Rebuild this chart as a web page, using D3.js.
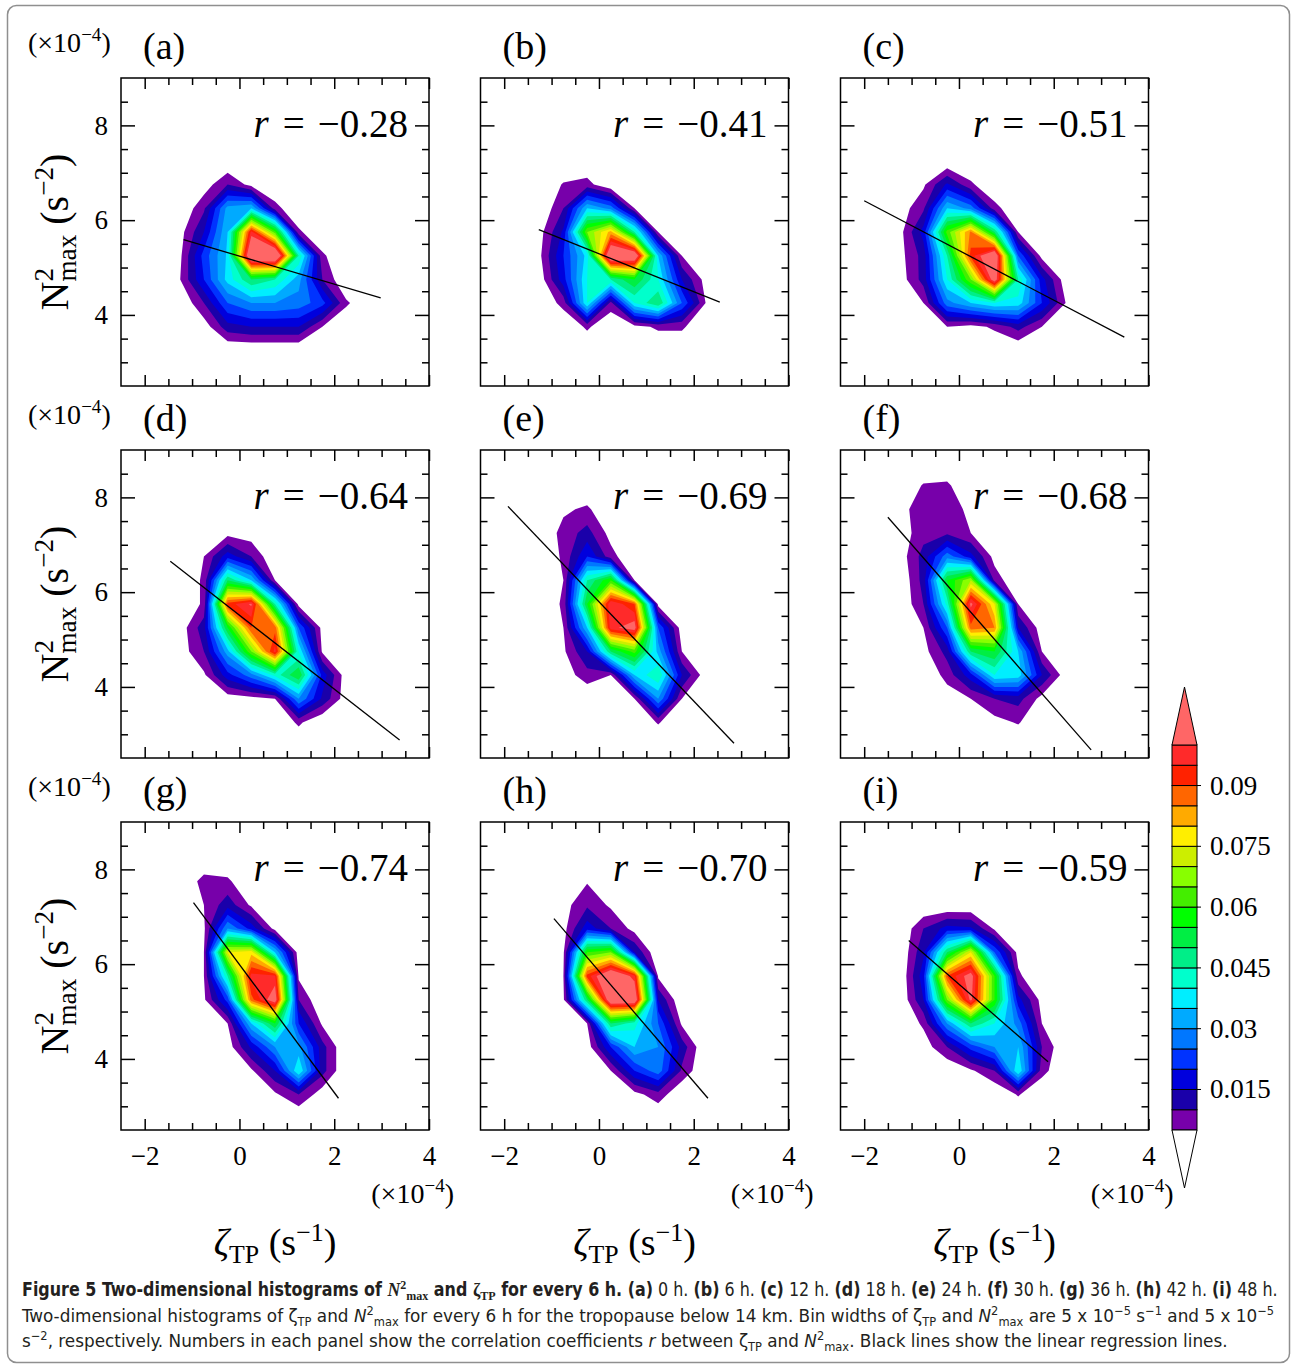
<!DOCTYPE html>
<html>
<head>
<meta charset="utf-8">
<script src="https://cdn.jsdelivr.net/npm/d3@7"></script>
<style>
  body { margin: 0; background: #fff; }
</style>
</head>
<body>
<div id="wrap"></div>
<script>
// histogram grids, units of 1e-3, rows from N2 = 8.75 down to 2.75,
// columns from zeta = -1.75 to 3.25 (bin centres, 0.5 apart)
var histA = [
  [0,0,0,0,0,0,0,0,0,0,0],
  [0,0,0,0,0,0,0,0,0,0,0],
  [0,0,0,0,0,0,0,0,0,0,0],
  [0,0,0,0,0,0,0,0,0,0,0],
  [0,0,2,10,3,0,0,0,0,0,0],
  [0,0,9,32,35,7,0,0,0,0,0],
  [0,3,15,35,97,62,6,0,0,0,0],
  [0,4,22,36,115,118,45,6,0,0,0],
  [0,5,20,37,50,45,32,10,0,0,0],
  [0,0,10,25,30,30,28,22,6,0,0],
  [0,0,2,13,15,15,15,5,0,0,0],
  [0,0,0,0,0,0,0,0,0,0,0],
  [0,0,0,0,0,0,0,0,0,0,0]
];
var histB = [
  [0,0,0,0,0,0,0,0,0,0,0],
  [0,0,0,0,0,0,0,0,0,0,0],
  [0,0,0,0,0,0,0,0,0,0,0],
  [0,0,0,0,0,0,0,0,0,0,0],
  [0,0,5.5,7,0,0,0,0,0,0,0],
  [0,0,10,35,28,5,0,0,0,0,0],
  [0,3,16,65,82,45,5,0,0,0,0],
  [0,4,20,37,115,112,35,5,0,0,0],
  [0,2,18,40,45,55,40,15,3,0,0],
  [0,0,7,40,8,40,50,25,5,0,0],
  [0,0,0,6,0,3,6,6,0,0,0],
  [0,0,0,0,0,0,0,0,0,0,0],
  [0,0,0,0,0,0,0,0,0,0,0]
];
var histC = [
  [0,0,0,0,0,0,0,0,0,0,0],
  [0,0,0,0,0,0,0,0,0,0,0],
  [0,0,0,0,0,0,0,0,0,0,0],
  [0,0,0,0,0,0,0,0,0,0,0],
  [0,0,4,16,6,0,0,0,0,0,0],
  [0,2,9,35,28,7,0,0,0,0,0],
  [0,3,17,62,86,50,5,0,0,0,0],
  [0,3,12,45,92,112,25,3,0,0,0],
  [0,2,12,40,65,106,45,17,2,0,0],
  [0,0,5,28,35,40,38,20,5,0,0],
  [0,0,0,5,3,6,12,5,0,0,0],
  [0,0,0,0,0,0,0,0,0,0,0],
  [0,0,0,0,0,0,0,0,0,0,0]
];
var histD = [
  [0,0,0,0,0,0,0,0,0,0,0],
  [0,0,0,0,0,0,0,0,0,0,0],
  [0,0,0,0,0,0,0,0,0,0,0],
  [0,0,0,3,2,0,0,0,0,0,0],
  [0,0,5,18,10,0,0,0,0,0,0],
  [0,0,6,50,35,5,0,0,0,0,0],
  [0,0,6,92,101,45,3,0,0,0,0],
  [0,2,13,55,90,88,25,3,0,0,0],
  [0,2,10,33,65,97,40,4,0,0,0],
  [0,0,4,18,28,42,55,18,2,0,0],
  [0,0,0,2,3,5,30,14,2,0,0],
  [0,0,0,0,0,0,6,0,0,0,0],
  [0,0,0,0,0,0,0,0,0,0,0]
];
var histE = [
  [0,0,0,0,0,0,0,0,0,0,0],
  [0,0,0,0,0,0,0,0,0,0,0],
  [0,0,4,6,0,0,0,0,0,0,0],
  [0,0,7,12,3,0,0,0,0,0,0],
  [0,0,6,20,7,0,0,0,0,0,0],
  [0,0,5,45,60,5,0,0,0,0,0],
  [0,0,6,55,100,90,3,0,0,0,0],
  [0,0,5,35,98,104,25,2,0,0,0],
  [0,0,4,15,50,62,33,5,0,0,0],
  [0,0,2,8,5,35,45,15,2,0,0],
  [0,0,0,0,0,5,30,5,0,0,0],
  [0,0,0,0,0,0,5.5,0,0,0,0],
  [0,0,0,0,0,0,0,0,0,0,0]
];
var histF = [
  [0,0,0,0,0,0,0,0,0,0,0],
  [0,0,5.5,6,0,0,0,0,0,0,0],
  [0,3,8,9,3,0,0,0,0,0,0],
  [0,2,8,9,5,0,0,0,0,0,0],
  [0,2,12,28,17,3,0,0,0,0,0],
  [0,0,12,55,70,8,0,0,0,0,0],
  [0,0,10,42,102,75,5,0,0,0,0],
  [0,0,5,25,88,85,15,2,0,0,0],
  [0,0,3,12,50,55,35,5,0,0,0],
  [0,0,0,7,18,40,38,15,2,0,0],
  [0,0,0,2,5,10,12,3,0,0,0],
  [0,0,0,0,0,3,5.5,0,0,0,0],
  [0,0,0,0,0,0,0,0,0,0,0]
];
var histG = [
  [0,0,0,0,0,0,0,0,0,0,0],
  [0,0,0,0,0,0,0,0,0,0,0],
  [0,0,7,6,0,0,0,0,0,0,0],
  [0,0,5,13,4,0,0,0,0,0,0],
  [0,0,4,30,18,3,0,0,0,0,0],
  [0,0,5,75,78,35,2,0,0,0,0],
  [0,0,5,45,97,96,4,0,0,0,0],
  [0,0,4,22,88,106,10,0,0,0,0],
  [0,0,0,5,35,55,20,4,0,0,0],
  [0,0,0,2,16,30,32,12,0,0,0],
  [0,0,0,0,4,15,40,12,0,0,0],
  [0,0,0,0,0,4,10,2,0,0,0],
  [0,0,0,0,0,0,0,0,0,0,0]
];
var histH = [
  [0,0,0,0,0,0,0,0,0,0,0],
  [0,0,0,0,0,0,0,0,0,0,0],
  [0,0,0,4.5,0,0,0,0,0,0,0],
  [0,0,3,9,4,0,0,0,0,0,0],
  [0,0,3,18,10,3,0,0,0,0,0],
  [0,0,4,60,65,15,0,0,0,0,0],
  [0,0,5,92,112,97,4,0,0,0,0],
  [0,0,4,50,110,110,15,0,0,0,0],
  [0,0,0,5,50,42,25,4,0,0,0],
  [0,0,0,2,20,35,30,13,0,0,0],
  [0,0,0,0,5,20,28,9,0,0,0],
  [0,0,0,0,0,3,8,0,0,0,0],
  [0,0,0,0,0,0,0,0,0,0,0]
];
var histI = [
  [0,0,0,0,0,0,0,0,0,0,0],
  [0,0,0,0,0,0,0,0,0,0,0],
  [0,0,0,0,0,0,0,0,0,0,0],
  [0,0,0,0,0,0,0,0,0,0,0],
  [0,0,10,17,16,4,0,0,0,0,0],
  [0,0,14,50,75,25,3,0,0,0,0],
  [0,0,18,90,104,60,6,0,0,0,0],
  [0,0,15,65,102,60,17,3,0,0,0],
  [0,0,6,30,50,40,28,5,0,0,0],
  [0,0,2,10,22,30,35,10,0,0,0],
  [0,0,0,0,4,10,40,7,0,0,0],
  [0,0,0,0,0,0,5.5,0,0,0,0],
  [0,0,0,0,0,0,0,0,0,0,0]
];
var hists = [histA, histB, histC, histD, histE, histF, histG, histH, histI];

var panelNames = ["(a)", "(b)", "(c)", "(d)", "(e)", "(f)", "(g)", "(h)", "(i)"];
var rValues = ["−0.28", "−0.41", "−0.51", "−0.64", "−0.69", "−0.68", "−0.74", "−0.70", "−0.59"];

// regression line end points (zeta, N2)
var regX1 = [-1.18, -1.27, -2.0, -1.46, -1.92, -1.50, -0.97, -0.95, -1.06];
var regY1 = [5.59, 5.80, 6.41, 6.65, 7.81, 7.58, 7.30, 6.96, 6.50];
var regX2 = [2.98, 2.55, 3.49, 3.38, 2.85, 2.79, 2.09, 2.30, 1.88];
var regY2 = [4.36, 4.27, 3.53, 2.88, 2.81, 2.67, 3.17, 3.17, 3.94];

var levels = [0.005, 0.01, 0.015, 0.02, 0.025, 0.03, 0.035, 0.04, 0.045, 0.05,
  0.055, 0.06, 0.065, 0.07, 0.075, 0.08, 0.085, 0.09, 0.095, 0.1];
var bandColors = ["#7700aa", "#1a00aa", "#0000dd", "#0033ff", "#0077ff", "#00aaff",
  "#00eeff", "#00ffcc", "#00ee88", "#00ee44", "#00ff00", "#44ee00", "#88ff00",
  "#ccee00", "#ffee00", "#ffaa00", "#ff6600", "#ff2200", "#ff2a2a", "#ff6666"];
var cbTicks = [0.015, 0.03, 0.045, 0.06, 0.075, 0.09];

var xMajor = [-2, 0, 2, 4];
var xMinor = [-1.5, -1, -0.5, 0.5, 1, 1.5, 2.5, 3, 3.5];
var yMajor = [4, 6, 8];
var yMinor = [3, 3.5, 4.5, 5, 5.5, 6.5, 7, 7.5, 8.5];

var captionLine1 = [
  {t: "Figure 5 Two-dimensional histograms of ", b: 1},
  {t: "N", b: 1, i: 1, serif: 1}, {t: "2", b: 1, sup: 1, serif: 1}, {t: "max", b: 1, sub: 1, serif: 1},
  {t: " and ", b: 1}, {t: "ζ", b: 1, serif: 1}, {t: "TP", b: 1, sub: 1, serif: 1},
  {t: " for every 6 h. ", b: 1},
  {t: "(a)", b: 1}, {t: " 0 h. "}, {t: "(b)", b: 1}, {t: " 6 h. "}, {t: "(c)", b: 1}, {t: " 12 h. "},
  {t: "(d)", b: 1}, {t: " 18 h. "}, {t: "(e)", b: 1}, {t: " 24 h. "}, {t: "(f)", b: 1}, {t: " 30 h. "},
  {t: "(g)", b: 1}, {t: " 36 h. "}, {t: "(h)", b: 1}, {t: " 42 h. "}, {t: "(i)", b: 1}, {t: " 48 h."}
];
var captionLine2 = [
  {t: "Two-dimensional histograms of ζ"}, {t: "TP", sub: 1}, {t: " and "},
  {t: "N", i: 1}, {t: "2", sup: 1}, {t: "max", sub: 1},
  {t: " for every 6 h for the tropopause below 14 km. Bin widths of ζ"}, {t: "TP", sub: 1},
  {t: " and "}, {t: "N", i: 1}, {t: "2", sup: 1}, {t: "max", sub: 1},
  {t: " are 5 x 10"}, {t: "−5", sup: 1}, {t: " s"}, {t: "−1", sup: 1}, {t: " and 5 x 10"}, {t: "−5", sup: 1}
];
var captionLine3 = [
  {t: "s"}, {t: "−2", sup: 1},
  {t: ", respectively. Numbers in each panel show the correlation coefficients "}, {t: "r", i: 1},
  {t: " between ζ"}, {t: "TP", sub: 1}, {t: " and "}, {t: "N", i: 1}, {t: "2", sup: 1}, {t: "max", sub: 1},
  {t: ". Black lines show the linear regression lines."}
];

var W = 1294, H = 1368;
var size = 308;
var colLeft = [121, 480.5, 840.5];
var rowTop = [78, 450, 822];
var serif = "'Liberation Serif', 'Times New Roman', serif";

var svg = d3.select("#wrap").append("svg")
  .attr("width", W)
  .attr("height", H)
  .style("font-family", serif);

svg.append("rect")
  .attr("x", 7.5).attr("y", 5.5)
  .attr("width", 1282).attr("height", 1357)
  .attr("rx", 9)
  .attr("fill", "none")
  .attr("stroke", "#8f8f8f")
  .attr("stroke-width", 1.5);

// rich text helper: sup / sub, optional sub stacked under the sup before it
function addParts(textSel, parts, fs) {
  var level = 0;
  var lastSup = null;
  parts.forEach(function (p) {
    var shift = 0, f = fs;
    if (p.sup) { shift = -0.38 * fs; f = fs * 0.68; }
    if (p.sub) { shift = 0.2 * fs; f = fs * 0.68; }
    var t = textSel.append("tspan").text(p.t)
      .attr("font-size", f)
      .attr("dy", shift - level);
    level = shift;
    if (p.b) t.attr("font-weight", "bold");
    if (p.i) t.attr("font-style", "italic");
    if (p.serif) t.style("font-family", serif);
    if (p.stack && lastSup) t.attr("dx", -lastSup.node().getComputedTextLength());
    lastSup = p.sup ? t : null;
  });
}

var x = d3.scaleLinear().domain([-2.5, 4]).range([0, size]);
var y = d3.scaleLinear().domain([2.5, 9]).range([size, 0]);

// grid coordinate -> data coordinate -> pixels
var gridPath = d3.geoPath(d3.geoTransform({
  point: function (cx, cy) {
    this.stream.point(x(-2 + 0.5 * cx), y(9 - 0.5 * cy));
  }
}));

var contourGen = d3.contours().size([11, 13]).thresholds(levels);

hists.forEach(function (hist, k) {
  var col = k % 3, row = Math.floor(k / 3);
  var g = svg.append("g")
    .attr("transform", "translate(" + colLeft[col] + "," + rowTop[row] + ")");

  var values = [];
  hist.forEach(function (r) { r.forEach(function (v) { values.push(v / 1000); }); });

  g.append("g").selectAll("path")
    .data(contourGen(values))
    .enter()
    .append("path")
    .attr("d", gridPath)
    .attr("fill", function (d, i) { return bandColors[i]; });

  g.append("line")
    .attr("x1", x(regX1[k])).attr("y1", y(regY1[k]))
    .attr("x2", x(regX2[k])).attr("y2", y(regY2[k]))
    .attr("stroke", "black")
    .attr("stroke-width", 1.3);

  // ticks, all pointing inwards
  var showY = col == 0, showX = row == 2;
  var axes = [
    [d3.axisLeft(y).tickValues(yMajor).tickSize(-14).tickPadding(13), 0, 0, showY],
    [d3.axisLeft(y).tickValues(yMinor).tickSize(-7), 0, 0, false],
    [d3.axisRight(y).tickValues(yMajor).tickSize(-14), size, 0, false],
    [d3.axisRight(y).tickValues(yMinor).tickSize(-7), size, 0, false],
    [d3.axisBottom(x).tickValues(xMajor).tickSize(-11).tickPadding(16), 0, size, showX],
    [d3.axisBottom(x).tickValues(xMinor).tickSize(-7), 0, size, false],
    [d3.axisTop(x).tickValues(xMajor).tickSize(-11), 0, 0, false],
    [d3.axisTop(x).tickValues(xMinor).tickSize(-7), 0, 0, false]
  ];
  axes.forEach(function (a) {
    var ax = a[0].tickFormat(a[3] ? d3.format("d") : "");
    var ag = g.append("g")
      .attr("transform", "translate(" + a[1] + "," + a[2] + ")")
      .call(ax);
    ag.select(".domain").remove();
    ag.selectAll("line").attr("stroke-width", 1.5);
    ag.selectAll("text")
      .style("font-family", serif)
      .style("font-size", "27px");
  });

  g.append("rect")
    .attr("width", size).attr("height", size)
    .attr("fill", "none")
    .attr("stroke", "black")
    .attr("stroke-width", 1.5);

  g.append("text")
    .attr("x", 22).attr("y", -19)
    .attr("font-size", 38)
    .text(panelNames[k]);

  var rt = g.append("text")
    .attr("x", 287).attr("y", 59)
    .attr("text-anchor", "end")
    .attr("font-size", 39);
  rt.append("tspan").attr("font-style", "italic").text("r");
  rt.append("tspan").attr("dx", 14).text("=");
  rt.append("tspan").attr("dx", 13).text(rValues[k]);
});

// row multipliers and y labels
rowTop.forEach(function (top) {
  var t = svg.append("text").attr("x", 28).attr("y", top - 26.5);
  addParts(t, [{t: "(×10"}, {t: "−4", sup: 1}, {t: ")"}], 28);

  var yl = svg.append("text")
    .attr("transform", "translate(68," + (top + size / 2) + ") rotate(-90)")
    .attr("text-anchor", "middle");
  addParts(yl, [{t: "N"}, {t: "2", sup: 1}, {t: "max", sub: 1, stack: 1}, {t: " (s"}, {t: "−2", sup: 1}, {t: ")"}], 40);
});

// column multipliers and x labels
colLeft.forEach(function (left) {
  var t = svg.append("text")
    .attr("x", left + 333).attr("y", 1203)
    .attr("text-anchor", "end");
  addParts(t, [{t: "(×10"}, {t: "−4", sup: 1}, {t: ")"}], 28);

  var xl = svg.append("text")
    .attr("x", left + size / 2).attr("y", 1255)
    .attr("text-anchor", "middle");
  addParts(xl, [{t: "ζ", i: 1}, {t: "TP", sub: 1}, {t: " (s"}, {t: "−1", sup: 1}, {t: ")"}], 38);
});

// colour bar
var cbX = 1172, cbW = 25;
var cb = d3.scaleLinear().domain([0.005, 0.1]).range([1130, 745]);
var cbg = svg.append("g");
cbg.selectAll("rect")
  .data(levels.slice(0, levels.length - 1))
  .enter()
  .append("rect")
  .attr("x", cbX)
  .attr("y", function (d, i) { return cb(levels[i + 1]); })
  .attr("width", cbW)
  .attr("height", function (d, i) { return cb(levels[i]) - cb(levels[i + 1]); })
  .attr("fill", function (d, i) { return bandColors[i]; })
  .attr("stroke", "black")
  .attr("stroke-width", 1);
cbg.append("path")
  .attr("d", "M" + cbX + "," + cb(0.1) + "L" + (cbX + cbW) + "," + cb(0.1) + "L" + (cbX + cbW / 2) + ",687Z")
  .attr("fill", bandColors[19])
  .attr("stroke", "black");
cbg.append("path")
  .attr("d", "M" + cbX + "," + cb(0.005) + "L" + (cbX + cbW) + "," + cb(0.005) + "L" + (cbX + cbW / 2) + ",1188Z")
  .attr("fill", "white")
  .attr("stroke", "black");
cbg.selectAll(".cbtick")
  .data(cbTicks)
  .enter()
  .append("line")
  .attr("x1", cbX + cbW).attr("x2", cbX + cbW + 4)
  .attr("y1", function (d) { return cb(d); })
  .attr("y2", function (d) { return cb(d); })
  .attr("stroke", "black");
cbg.selectAll(".cblab")
  .data(cbTicks)
  .enter()
  .append("text")
  .attr("x", 1210)
  .attr("y", function (d) { return cb(d) + 9; })
  .style("font-family", serif)
  .style("font-size", "27px")
  .text(function (d) { return String(d); });

// caption
var capFont = "'DejaVu Sans Condensed', 'Liberation Sans Narrow', Roboto, sans-serif";
function captionLine(parts, baseY, fs, width) {
  var t = svg.append("text")
    .attr("x", 0).attr("y", 0)
    .style("font-family", capFont)
    .attr("fill", "#231f20");
  addParts(t, parts, fs);
  var bw = t.node().getBBox().width;
  t.attr("transform", "translate(22," + baseY + ") scale(" + (width / bw) + ",1)");
}
captionLine(captionLine1, 1296, 19, 1256);
captionLine(captionLine2, 1322, 18, 1254);
captionLine(captionLine3, 1347, 18, 1206);
</script>
</body>
</html>
